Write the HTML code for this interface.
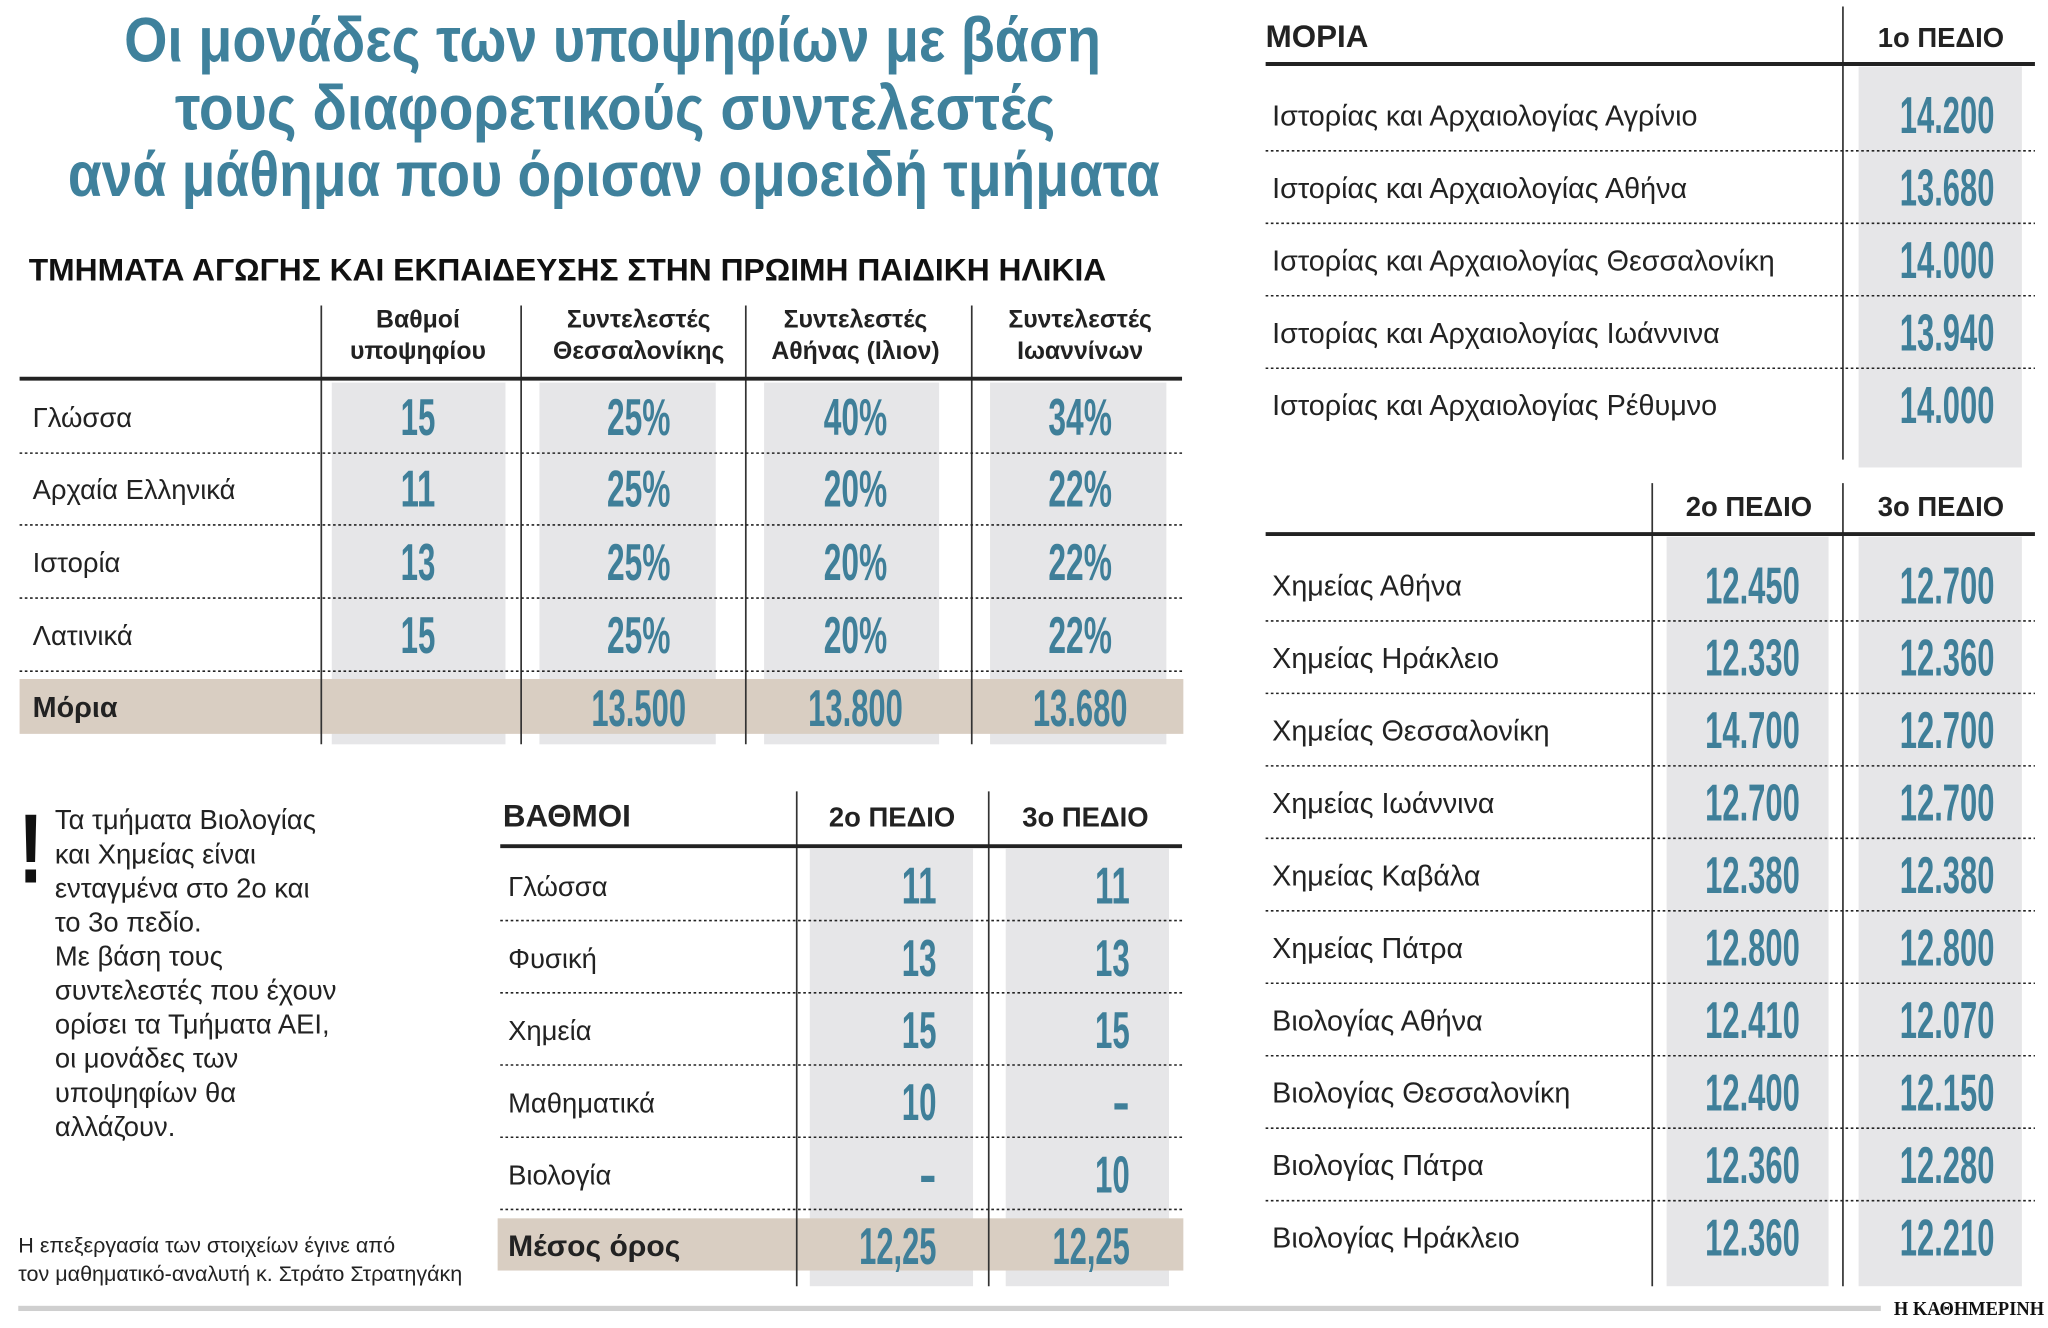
<!DOCTYPE html>
<html><head><meta charset="utf-8">
<style>
html,body{margin:0;padding:0;background:#fff;}
svg{display:block;}
.nar{font-family:"Liberation Sans Narrow","Liberation Sans",sans-serif;}
</style></head>
<body>
<svg id="c" width="2048" height="1328" viewBox="0 0 1568 1017" preserveAspectRatio="none" xmlns="http://www.w3.org/2000/svg">
<rect width="1568" height="1017" fill="#fff"/>
<g id="g"></g>
</svg>
<script>
// ---------- data ----------
const t1Subjects = ["Γλώσσα","Αρχαία Ελληνικά","Ιστορία","Λατινικά"];
const t1Headers = [["Βαθμοί","υποψηφίου"],["Συντελεστές","Θεσσαλονίκης"],["Συντελεστές","Αθήνας (Ιλιον)"],["Συντελεστές","Ιωαννίνων"]];
const t1Grades = ["15","11","13","15"];
const t1Thess = ["25%","25%","25%","25%"];
const t1Athens = ["40%","20%","20%","20%"];
const t1Ioan = ["34%","22%","22%","22%"];
const t1Moria = ["","13.500","13.800","13.680"];

const t2Subjects = ["Γλώσσα","Φυσική","Χημεία","Μαθηματικά","Βιολογία"];
const t2Field2 = ["11","13","15","10","-"];
const t2Field3 = ["11","13","15","-","10"];
const t2Mean = ["12,25","12,25"];

const t3Depts = ["Ιστορίας και Αρχαιολογίας Αγρίνιο","Ιστορίας και Αρχαιολογίας Αθήνα","Ιστορίας και Αρχαιολογίας Θεσσαλονίκη","Ιστορίας και Αρχαιολογίας Ιωάννινα","Ιστορίας και Αρχαιολογίας Ρέθυμνο"];
const t3Field1 = ["14.200","13.680","14.000","13.940","14.000"];

const t4Depts = ["Χημείας Αθήνα","Χημείας Ηράκλειο","Χημείας Θεσσαλονίκη","Χημείας Ιωάννινα","Χημείας Καβάλα","Χημείας Πάτρα","Βιολογίας Αθήνα","Βιολογίας Θεσσαλονίκη","Βιολογίας Πάτρα","Βιολογίας Ηράκλειο"];
const t4Field2 = ["12.450","12.330","14.700","12.700","12.380","12.800","12.410","12.400","12.360","12.360"];
const t4Field3 = ["12.700","12.360","12.700","12.700","12.380","12.800","12.070","12.150","12.280","12.210"];

const note = ["Τα τμήματα Βιολογίας","και Χημείας είναι","ενταγμένα στο 2ο και","το 3ο πεδίο.","Με βάση τους","συντελεστές που έχουν","ορίσει τα Τμήματα ΑΕΙ,","οι μονάδες των","υποψηφίων θα","αλλάζουν."];

// ---------- helpers ----------
const NS="http://www.w3.org/2000/svg";
const G=document.getElementById('g');
const BLUE="#3f7f99";
function el(tag,attrs,parent){const e=document.createElementNS(NS,tag);for(const k in attrs)e.setAttribute(k,attrs[k]);(parent||G).appendChild(e);return e;}
function txt(s,x,y,o){const e=el('text',Object.assign({x:x,y:y,'class':'nar'},o||{}));e.textContent=s;return e;}
function valWidth(s){let w=0;for(const ch of s){if(/[0-9]/.test(ch))w+=13.3;else if(ch==='%')w+=22;else if(ch==='-')w+=8;else w+=6;}return w;}
function val(s,x,y,anchor,name){
  if(!s)return;
  const o={fill:BLUE,'font-size':40,'font-weight':'bold','text-anchor':anchor};
  if(s.length>1&&s!=='-'){o.textLength=valWidth(s);o.lengthAdjust='spacingAndGlyphs';}
  const e=txt(s,x,y,o);
  
  
}
function hline(x1,x2,y,w,dash,name){const e=el('line',{x1:x1,x2:x2,y1:y,y2:y,stroke:'#222','stroke-width':w,'stroke-dasharray':dash||'none'});}
function vline(x,y1,y2,name){const e=el('line',{x1:x,x2:x,y1:y1,y2:y2,stroke:'#333','stroke-width':1.3});}
function rect(x,y,w,h,f,name){const e=el('rect',{x:x,y:y,width:w,height:h,fill:f});}
function label(s,x,y,size,name,extra){const e=txt(s,x,y,Object.assign({fill:'#222','font-size':size||21},extra||{}));return e;}

// ---------- title ----------
const titleLines=[["Οι μονάδες των υποψηφίων με βάση",95,843,47],["τους διαφορετικούς συντελεστές",134,808,99],["ανά μάθημα που όρισαν ομοειδή τμήματα",52,888,150]];
titleLines.forEach((l,i)=>{const e=txt(l[0],l[1],l[3],{fill:'#3f819c','font-size':48,'font-weight':'bold',textLength:l[2]-l[1],lengthAdjust:'spacingAndGlyphs'});
});

// ---------- table 1 ----------
const st=txt("ΤΜΗΜΑΤΑ ΑΓΩΓΗΣ ΚΑΙ ΕΚΠΑΙΔΕΥΣΗΣ ΣΤΗΝ ΠΡΩΙΜΗ ΠΑΙΔΙΚΗ ΗΛΙΚΙΑ",22,215,{fill:'#111','font-size':24,'font-weight':'bold',textLength:825,lengthAdjust:'spacingAndGlyphs'});

const t1ColX=[[254,133],[413,135],[585,134],[758,135]];
const t1Centers=[320,489,655,827];
t1ColX.forEach((c,i)=>rect(c[0],293,c[1],277,'#e6e6e8','table1-col-bg-'+i));
const t1RowY=[319,374,430,486];
rect(15,520,891,42,'#d9cec2','table1-moria-row');
[246,399,571,744].forEach((x,i)=>vline(x,234,570,'table1-divider-'+i));
t1Headers.forEach((h,i)=>{
  label(h[0],t1Centers[i],251,19,'table1-header-'+i,{'text-anchor':'middle','font-weight':'bold'});
  label(h[1],t1Centers[i],275,19,'table1-header-'+i+'-line2',{'text-anchor':'middle','font-weight':'bold'});
});
hline(15,905,290,3,null,'table1-header-rule');
t1Subjects.forEach((s,i)=>{
  label(s,25,t1RowY[i]+8,21,'table1-row-label');
  val(t1Grades[i],t1Centers[0],t1RowY[i]+14,'middle','table1-grade');
  val(t1Thess[i],t1Centers[1],t1RowY[i]+14,'middle','table1-thess');
  val(t1Athens[i],t1Centers[2],t1RowY[i]+14,'middle','table1-athens');
  val(t1Ioan[i],t1Centers[3],t1RowY[i]+14,'middle','table1-ioannina');
  hline(15,905,t1RowY[i]+28,1.2,'2 2','table1-row-separator');
});
label("Μόρια",25,549,22,'table1-moria-label',{'font-weight':'bold'});
t1Moria.forEach((m,i)=>val(m,t1Centers[i],556,'middle','table1-moria-value'));

// ---------- note ----------
const ex=txt("!",0,0,{fill:'#111','font-size':58,'font-weight':'bold',transform:'translate(14,676) scale(1,1.3)'});
note.forEach((s,i)=>label(s,42,635+i*26.1,21,'note-line'));
label("Η επεξεργασία των στοιχείων έγινε από",14,959,16.5,'source-note');
label("τον μαθηματικό-αναλυτή κ. Στράτο Στρατηγάκη",14,981,16.5,'source-note-2');

// ---------- table 2 ----------
rect(620,650,125,335,'#e6e6e8','table2-col-bg-2');
rect(770,650,125,335,'#e6e6e8','table2-col-bg-3');
rect(381,933,525,40,'#d9cec2','table2-mean-row');
vline(610,606,985,'table2-divider-1');vline(757,606,985,'table2-divider-2');
label("ΒΑΘΜΟΙ",385,633,24,'table2-title',{'font-weight':'bold'});
label("2ο ΠΕΔΙΟ",683,633,21,'table2-header-field2',{'text-anchor':'middle','font-weight':'bold'});
label("3ο ΠΕΔΙΟ",831,633,21,'table2-header-field3',{'text-anchor':'middle','font-weight':'bold'});
hline(383,905,648,3,null,'table2-header-rule');
t2Subjects.forEach((s,i)=>{
  const y=678+i*55.3;
  label(s,389,y+8,21,'table2-row-label');
  val(t2Field2[i],717,y+14,'end','table2-field2-value');
  val(t2Field3[i],865,y+14,'end','table2-field3-value');
  hline(383,905,y+27,1.2,'2 2','table2-row-separator');
});
label("Μέσος όρος",389,962,23,'table2-mean-label',{'font-weight':'bold'});
val(t2Mean[0],717,968,'end','table2-mean-field2');
val(t2Mean[1],865,968,'end','table2-mean-field3');

// ---------- table 3 ----------
rect(1423,51,125,307,'#e6e6e8','table3-col-bg');
vline(1411,5,352,'table3-divider');
label("ΜΟΡΙΑ",969,36,24,'table3-title',{'font-weight':'bold'});
label("1ο ΠΕΔΙΟ",1486,36,21,'table3-header-field1',{'text-anchor':'middle','font-weight':'bold'});
hline(969,1558,49,3,null,'table3-header-rule');
t3Depts.forEach((s,i)=>{
  const y=88+i*55.5;
  label(s,974,y+8,22,'table3-dept-label');
  val(t3Field1[i],1527,y+14,'end','table3-field1-value');
  if(i<t3Depts.length-1)hline(969,1558,y+27.5,1.2,'2 2','table3-row-separator');
});

// ---------- table 4 ----------
rect(1276,411,124,574,'#e6e6e8','table4-col-bg-2');
rect(1423,411,125,574,'#e6e6e8','table4-col-bg-3');
vline(1265,370,985,'table4-divider-1');vline(1411,370,985,'table4-divider-2');
label("2ο ΠΕΔΙΟ",1339,395,21,'table4-header-field2',{'text-anchor':'middle','font-weight':'bold'});
label("3ο ΠΕΔΙΟ",1486,395,21,'table4-header-field3',{'text-anchor':'middle','font-weight':'bold'});
hline(969,1558,409,3,null,'table4-header-rule');
t4Depts.forEach((s,i)=>{
  const y=448+i*55.5;
  label(s,974,y+8,22,'table4-dept-label');
  val(t4Field2[i],1378,y+14,'end','table4-field2-value');
  val(t4Field3[i],1527,y+14,'end','table4-field3-value');
  if(i<t4Depts.length-1)hline(969,1558,y+27.5,1.2,'2 2','table4-row-separator');
});

// ---------- footer ----------
rect(14,1000,1426,4,'#cfcfcf','footer-rule');
const lg=txt("Η ΚΑΘΗΜΕΡΙΝΗ",1450,1007,{fill:'#111','font-size':15,'font-weight':'bold','font-family':'"Liberation Serif",serif',textLength:115,lengthAdjust:'spacingAndGlyphs'});
lg.setAttribute('class','');
</script>
</body></html>
